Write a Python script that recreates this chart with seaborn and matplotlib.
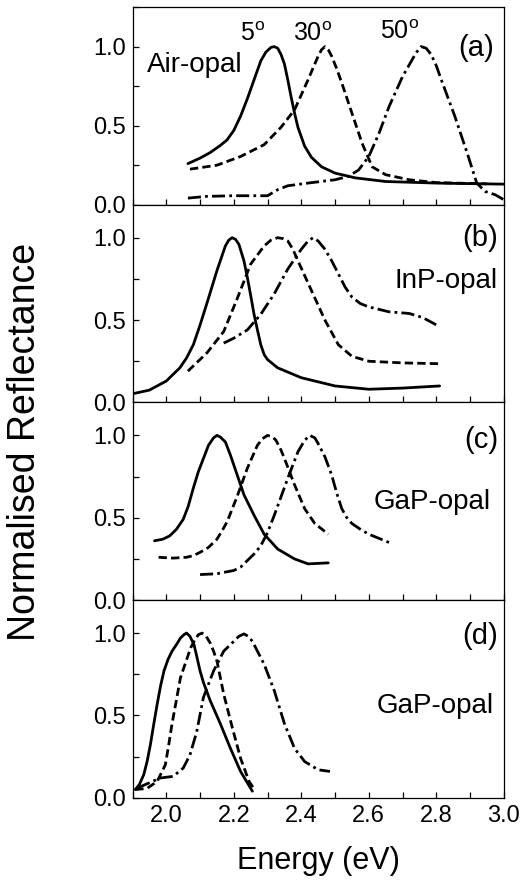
import pandas as pd
import matplotlib
matplotlib.use('Agg')
import matplotlib.pyplot as plt
import seaborn as sns
from matplotlib.ticker import MultipleLocator, FormatStrFormatter

angles = ['5', '30', '50']
panels = ['a', 'b', 'c', 'd']
panel_names = ['Air-opal', 'InP-opal', 'GaP-opal', 'GaP-opal']

# (a) Air-opal
a5_e = [2.064, 2.10, 2.13, 2.16, 2.18, 2.20, 2.22, 2.24, 2.26, 2.28, 2.295, 2.31, 2.32, 2.33, 2.34, 2.35, 2.36, 2.37, 2.38, 2.39, 2.41, 2.43, 2.46, 2.50, 2.56, 2.65, 2.80, 3.01]
a5_r = [0.26, 0.295, 0.33, 0.375, 0.41, 0.47, 0.56, 0.67, 0.79, 0.91, 0.965, 0.995, 1.0, 0.99, 0.95, 0.89, 0.79, 0.68, 0.58, 0.49, 0.37, 0.30, 0.24, 0.20, 0.17, 0.147, 0.137, 0.13]
a30_e = [2.07, 2.15, 2.22, 2.29, 2.34, 2.38, 2.42, 2.45, 2.46, 2.47, 2.48, 2.49, 2.505, 2.52, 2.55, 2.58, 2.61, 2.65, 2.72, 2.80, 2.95]
a30_r = [0.225, 0.25, 0.305, 0.38, 0.49, 0.60, 0.79, 0.94, 0.98, 1.0, 0.98, 0.94, 0.86, 0.77, 0.58, 0.39, 0.24, 0.19, 0.158, 0.14, 0.132]
a50_e = [2.064, 2.12, 2.20, 2.30, 2.33, 2.36, 2.42, 2.50, 2.54, 2.57, 2.60, 2.63, 2.66, 2.70, 2.74, 2.755, 2.77, 2.785, 2.80, 2.815, 2.855, 2.895, 2.92, 2.945, 2.975, 3.01]
a50_r = [0.042, 0.053, 0.057, 0.057, 0.095, 0.12, 0.137, 0.158, 0.18, 0.22, 0.305, 0.45, 0.62, 0.81, 0.96, 1.0, 0.99, 0.95, 0.88, 0.79, 0.56, 0.305, 0.137, 0.084, 0.063, 0.02]

# (b) InP-opal
b5_e = [1.895, 1.95, 2.00, 2.04, 2.06, 2.08, 2.10, 2.12, 2.15, 2.175, 2.185, 2.195, 2.205, 2.215, 2.23, 2.24, 2.25, 2.26, 2.27, 2.28, 2.29, 2.30, 2.33, 2.40, 2.50, 2.60, 2.70, 2.81]
b5_r = [0.05, 0.075, 0.13, 0.21, 0.27, 0.35, 0.47, 0.60, 0.80, 0.95, 0.985, 1.0, 0.99, 0.96, 0.86, 0.76, 0.65, 0.535, 0.44, 0.35, 0.29, 0.26, 0.21, 0.15, 0.10, 0.08, 0.087, 0.10]
b30_e = [2.064, 2.12, 2.17, 2.21, 2.25, 2.29, 2.31, 2.33, 2.345, 2.36, 2.375, 2.39, 2.43, 2.47, 2.51, 2.55, 2.60, 2.70, 2.81]
b30_r = [0.19, 0.30, 0.43, 0.63, 0.84, 0.95, 0.985, 1.0, 0.995, 0.98, 0.93, 0.86, 0.68, 0.50, 0.35, 0.28, 0.25, 0.24, 0.235]
b50_e = [2.17, 2.20, 2.24, 2.28, 2.32, 2.36, 2.40, 2.42, 2.435, 2.45, 2.47, 2.49, 2.51, 2.53, 2.55, 2.575, 2.60, 2.66, 2.72, 2.76, 2.81]
b50_r = [0.36, 0.39, 0.44, 0.535, 0.66, 0.81, 0.93, 0.98, 1.0, 0.98, 0.93, 0.86, 0.78, 0.70, 0.64, 0.60, 0.58, 0.55, 0.54, 0.515, 0.46]

# (c) GaP-opal
c5_e = [1.965, 1.99, 2.01, 2.03, 2.05, 2.065, 2.08, 2.095, 2.11, 2.125, 2.14, 2.15, 2.16, 2.175, 2.19, 2.20, 2.23, 2.26, 2.29, 2.33, 2.38, 2.42, 2.48]
c5_r = [0.36, 0.37, 0.39, 0.43, 0.49, 0.57, 0.68, 0.78, 0.86, 0.94, 0.985, 1.0, 0.99, 0.96, 0.88, 0.82, 0.64, 0.515, 0.40, 0.31, 0.25, 0.22, 0.226]
c30_e = [1.977, 2.02, 2.06, 2.08, 2.10, 2.125, 2.15, 2.165, 2.18, 2.21, 2.24, 2.27, 2.285, 2.30, 2.315, 2.325, 2.34, 2.35, 2.38, 2.41, 2.44, 2.48]
c30_r = [0.26, 0.255, 0.26, 0.27, 0.29, 0.32, 0.37, 0.42, 0.475, 0.63, 0.80, 0.94, 0.98, 1.0, 0.99, 0.97, 0.91, 0.86, 0.70, 0.555, 0.465, 0.40]
c50_e = [2.10, 2.15, 2.20, 2.22, 2.24, 2.26, 2.28, 2.30, 2.32, 2.36, 2.39, 2.41, 2.425, 2.44, 2.45, 2.47, 2.49, 2.505, 2.52, 2.535, 2.55, 2.575, 2.60, 2.66]
c50_r = [0.155, 0.16, 0.18, 0.20, 0.24, 0.28, 0.33, 0.41, 0.515, 0.74, 0.90, 0.97, 1.0, 0.985, 0.95, 0.87, 0.76, 0.65, 0.555, 0.50, 0.465, 0.43, 0.40, 0.35]

# (d) GaP-opal
d5_e = [1.908, 1.92, 1.933, 1.943, 1.953, 1.963, 1.973, 1.983, 1.993, 2.005, 2.017, 2.03, 2.042, 2.052, 2.06, 2.07, 2.082, 2.09, 2.10, 2.11, 2.13, 2.16, 2.19, 2.22, 2.255]
d5_r = [0.05, 0.08, 0.14, 0.22, 0.325, 0.45, 0.57, 0.68, 0.77, 0.84, 0.89, 0.93, 0.97, 0.99, 1.0, 0.98, 0.93, 0.86, 0.77, 0.70, 0.59, 0.45, 0.30, 0.16, 0.04]
d30_e = [1.908, 1.943, 1.973, 1.985, 1.997, 2.007, 2.017, 2.042, 2.072, 2.085, 2.095, 2.106, 2.118, 2.13, 2.14, 2.15, 2.17, 2.195, 2.22, 2.245, 2.258]
d30_r = [0.05, 0.057, 0.10, 0.15, 0.20, 0.32, 0.45, 0.73, 0.91, 0.96, 0.99, 1.0, 0.98, 0.94, 0.89, 0.83, 0.63, 0.43, 0.24, 0.10, 0.06]
d50_e = [1.915, 1.982, 2.02, 2.05, 2.07, 2.09, 2.11, 2.14, 2.17, 2.20, 2.215, 2.23, 2.243, 2.255, 2.27, 2.29, 2.32, 2.35, 2.38, 2.41, 2.45, 2.485]
d50_r = [0.06, 0.12, 0.13, 0.18, 0.26, 0.40, 0.61, 0.77, 0.89, 0.95, 0.98, 0.995, 0.98, 0.95, 0.89, 0.81, 0.65, 0.45, 0.30, 0.22, 0.17, 0.16]

curves = {
    ('a', '5'): (a5_e, a5_r), ('a', '30'): (a30_e, a30_r), ('a', '50'): (a50_e, a50_r),
    ('b', '5'): (b5_e, b5_r), ('b', '30'): (b30_e, b30_r), ('b', '50'): (b50_e, b50_r),
    ('c', '5'): (c5_e, c5_r), ('c', '30'): (c30_e, c30_r), ('c', '50'): (c50_e, c50_r),
    ('d', '5'): (d5_e, d5_r), ('d', '30'): (d30_e, d30_r), ('d', '50'): (d50_e, d50_r),
}

rows = []
for (p, ang), (es, rs) in curves.items():
    for e, r in zip(es, rs):
        rows.append({'panel': p, 'angle': ang, 'energy': e, 'refl': r})
df = pd.DataFrame(rows)

sns.set_theme(style='ticks')
plt.rcParams['font.family'] = ['Liberation Sans', 'DejaVu Sans']
plt.rcParams['mathtext.fontset'] = 'custom'
plt.rcParams['mathtext.rm'] = 'Liberation Sans'
for k in ['text.color', 'axes.labelcolor', 'xtick.color', 'ytick.color', 'xtick.labelcolor', 'ytick.labelcolor']:
    plt.rcParams[k] = 'black'

dash_map = {'5': '', '30': (3, 1.5), '50': (4.7, 1.5, 1, 1.5)}

fig, axes = plt.subplots(4, 1, figsize=(5.22, 8.83), dpi=100, sharex=True)
fig.subplots_adjust(left=0.254, right=0.965, top=0.992, bottom=0.0965, hspace=0)

# label positions
name_pos = [(1.942, 0.884, 'left'), (2.983, 0.737, 'right'), (2.963, 0.596, 'right'), (2.971, 0.558, 'right')]
letter_pos = [(2.918, 0.99), (2.93, 1.0), (2.934, 0.97), (2.929, 0.984)]

for i, (ax, p) in enumerate(zip(axes, panels)):
    sns.lineplot(data=df[df['panel'] == p], x='energy', y='refl', style='angle',
                 style_order=angles, dashes=dash_map, color='black', lw=2,
                 estimator=None, sort=False, legend=False, ax=ax)
    ax.set_xlim(1.9, 3.0)
    ax.set_ylim(0, 1.25 if p == 'a' else 1.2)
    ax.set_yticks([0.0, 0.5, 1.0])
    ax.yaxis.set_major_formatter(FormatStrFormatter('%.1f'))
    ax.yaxis.set_minor_locator(MultipleLocator(0.25))
    ax.xaxis.set_major_locator(MultipleLocator(0.2))
    ax.xaxis.set_minor_locator(MultipleLocator(0.1))
    ax.xaxis.set_major_formatter(FormatStrFormatter('%.1f'))
    ax.tick_params(which='both', direction='in', length=4, width=0.9, labelsize=17, pad=5, color='black')
    for s in ax.spines.values():
        s.set_linewidth(0.9)
        s.set_color('black')
    ax.set_ylabel('')
    ax.set_xlabel('')
    nx, ny, nha = name_pos[i]
    ax.text(nx, ny, panel_names[i], ha=nha, va='center', fontsize=20)
    lx, ly = letter_pos[i]
    ax.text(lx, ly, '(' + p + ')', ha='center', va='center', fontsize=21)

axes[0].text(2.255, 1.08, r'5$^\mathrm{o}$', ha='center', va='center', fontsize=18)
axes[0].text(2.432, 1.08, r'30$^\mathrm{o}$', ha='center', va='center', fontsize=18)
axes[0].text(2.692, 1.09, r'50$^\mathrm{o}$', ha='center', va='center', fontsize=18)

axes[-1].set_xlabel('Energy (eV)', fontsize=22, labelpad=14)
fig.text(0.048, 0.5, 'Normalised Reflectance', rotation=90, ha='center', va='center', fontsize=27)

fig.savefig('out.png', dpi=100)
